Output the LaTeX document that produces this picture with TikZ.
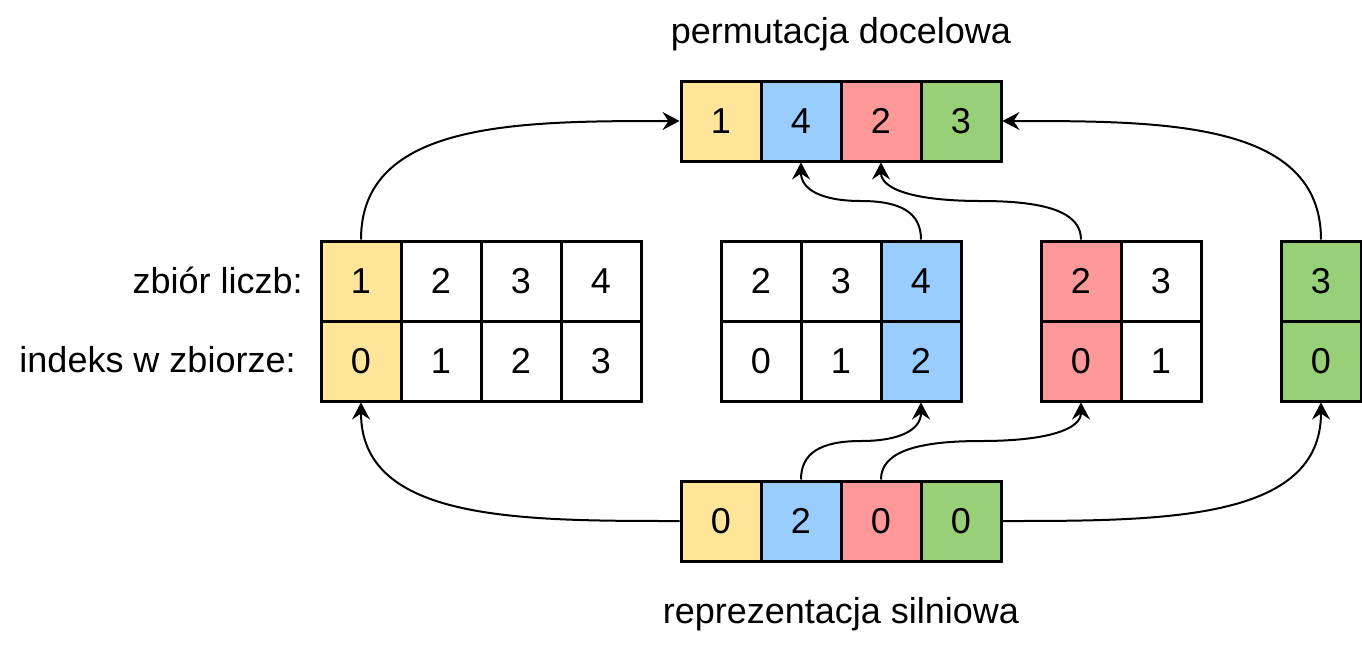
\documentclass[tikz,border=0pt]{standalone}
\usepackage{fontspec}
\setmainfont{Liberation Sans}
\usetikzlibrary{arrows.meta,calc}

\definecolor{zolty}{HTML}{FFE599}
\definecolor{niebieski}{HTML}{99CCFF}
\definecolor{czerwony}{HTML}{FF9999}
\definecolor{zielony}{HTML}{97D077}

\begin{document}
\begin{tikzpicture}[x=0.5pt,y=-0.5pt,
	cell/.style={draw,line width=1.5pt,minimum size=40pt,inner sep=0pt,font=\fontsize{18}{22}\selectfont},
	lbl/.style={inner sep=0pt,font=\fontsize{18}{22}\selectfont},
	arr/.style={line width=1pt,-{Stealth[length=8.5pt,width=9pt,inset=3pt]}}]

	\useasboundingbox (0,0) rectangle (1362,644);

	% permutacja docelowa
	\node[lbl,anchor=base] (tytul) at (841,43) {permutacja docelowa};
	\node[cell,fill=zolty] (t1) at (721,121) {1};
	\node[cell,fill=niebieski] (t2) at (801,121) {4};
	\node[cell,fill=czerwony] (t3) at (881,121) {2};
	\node[cell,fill=zielony] (t4) at (961,121) {3};

	% opisy wierszy
	\node[lbl,anchor=base east] (zbior) at (303,293) {zbiór liczb:};
	\node[lbl,anchor=base east] (indeks) at (296,372) {indeks w zbiorze:};

	% zbior 1
	\node[cell,fill=zolty] (sa1) at (361,281) {1};
	\node[cell] (sa2) at (441,281) {2};
	\node[cell] (sa3) at (521,281) {3};
	\node[cell] (sa4) at (601,281) {4};
	\node[cell,fill=zolty] (ia1) at (361,361) {0};
	\node[cell] (ia2) at (441,361) {1};
	\node[cell] (ia3) at (521,361) {2};
	\node[cell] (ia4) at (601,361) {3};

	% zbior 2
	\node[cell] (sb1) at (761,281) {2};
	\node[cell] (sb2) at (841,281) {3};
	\node[cell,fill=niebieski] (sb3) at (921,281) {4};
	\node[cell] (ib1) at (761,361) {0};
	\node[cell] (ib2) at (841,361) {1};
	\node[cell,fill=niebieski] (ib3) at (921,361) {2};

	% zbior 3
	\node[cell,fill=czerwony] (sc1) at (1081,281) {2};
	\node[cell] (sc2) at (1161,281) {3};
	\node[cell,fill=czerwony] (ic1) at (1081,361) {0};
	\node[cell] (ic2) at (1161,361) {1};

	% zbior 4
	\node[cell,fill=zielony] (sd1) at (1321,281) {3};
	\node[cell,fill=zielony] (id1) at (1321,361) {0};

	% reprezentacja silniowa
	\node[cell,fill=zolty] (b1) at (721,521) {0};
	\node[cell,fill=niebieski] (b2) at (801,521) {2};
	\node[cell,fill=czerwony] (b3) at (881,521) {0};
	\node[cell,fill=zielony] (b4) at (961,521) {0};
	\node[lbl,anchor=base] (podpis) at (841,623) {reprezentacja silniowa};

	% strzalki
	\draw[arr] (sa1.north) .. controls (sa1.north |- t1.west) and +(-161,0) .. (t1.west);
	\draw[arr] (sd1.north) .. controls (sd1.north |- t4.east) and +(161,0) .. (t4.east);
	\draw[arr] (b1.west) .. controls +(-161,0) and (ia1.south |- b1.west) .. (ia1.south);
	\draw[arr] (b4.east) .. controls +(161,0) and (id1.south |- b4.east) .. (id1.south);
	\draw[arr] (sb3.north) .. controls +(0,-26.7) and +(40,0) .. ($(sb3.north)!.5!(t2.south)$)
		.. controls +(-40,0) and +(0,26.7) .. (t2.south);
	\draw[arr] (sc1.north) .. controls +(0,-26.7) and +(66.7,0) .. ($(sc1.north)!.5!(t3.south)$)
		.. controls +(-66.7,0) and +(0,26.7) .. (t3.south);
	\draw[arr] (b2.north) .. controls +(0,-26.7) and +(-40,0) .. ($(b2.north)!.5!(ib3.south)$)
		.. controls +(40,0) and +(0,26.7) .. (ib3.south);
	\draw[arr] (b3.north) .. controls +(0,-26.7) and +(-66.7,0) .. ($(b3.north)!.5!(ic1.south)$)
		.. controls +(66.7,0) and +(0,26.7) .. (ic1.south);

\end{tikzpicture}
\end{document}
